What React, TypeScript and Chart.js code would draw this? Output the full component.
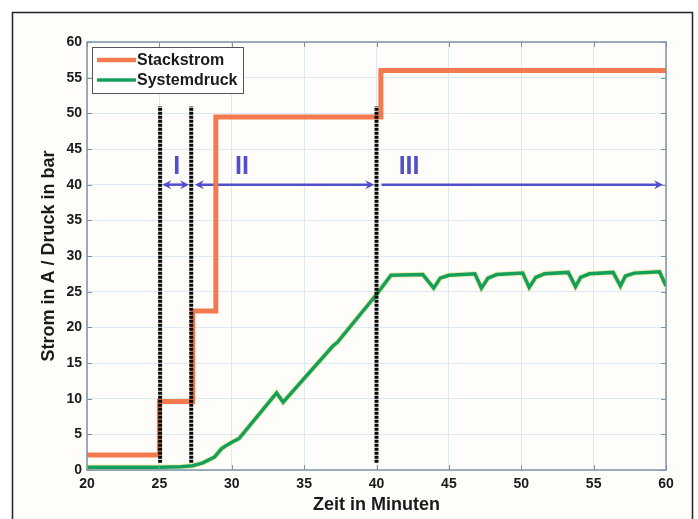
import React, { useEffect, useRef } from "react";
import { Chart, registerables } from "chart.js";

Chart.register(...registerables);

// ---- data ----
const STEP_TIMES = [20, 25, 27.3, 28.9, 40.3, 60];
const STACKSTROM = [2.1, 9.6, 22.3, 49.5, 56, 56];

const PRESSURE_TIMES = [
  20, 25, 26.5, 27.3, 28, 28.8, 29.3, 29.6, 30.1, 30.5, 33.1, 33.55, 37.0, 37.3, 40.0, 41.0,
  43.2, 43.95, 44.4, 45.0, 46.8, 47.25, 47.7, 48.3, 50.1, 50.55, 51.0, 51.6, 53.25, 53.75,
  54.1, 54.7, 56.35, 56.85, 57.2, 57.8, 59.55, 60,
];
const SYSTEMDRUCK = [
  0.4, 0.4, 0.45, 0.6, 1.0, 1.8, 3.0, 3.4, 4.0, 4.4, 10.8, 9.5, 17.4, 17.9, 24.6, 27.3,
  27.4, 25.5, 26.9, 27.3, 27.5, 25.5, 26.9, 27.4, 27.6, 25.6, 27.0, 27.5, 27.7, 25.7,
  27.0, 27.5, 27.7, 25.8, 27.2, 27.6, 27.8, 25.8,
];

const MARKER_TIMES = [25.05, 27.2, 40.0];
const MARKER_BOTTOM = 1;
const MARKER_TOP = 51;

const PHASE_LABELS = ["I", "II", "III"];
const PHASE_FROM = [25.2, 27.45, 40.35];
const PHASE_TO = [27.05, 39.85, 59.8];
const PHASE_START_HEAD = [true, true, false];
const PHASE_LABEL_X = [26.2, 30.7, 42.25];
const PHASE_ARROW_Y = 40;
const PHASE_LABEL_Y = 42.6;

const SERIES_NAMES = ["Stackstrom", "Systemdruck"];
const X_TITLE = "Zeit in Minuten";
const Y_TITLE = "Strom in A / Druck in bar";

const ORANGE = "#f27a4e";
const GREEN = "#14a05c";
const ARROW = "#5050cc";
const FONT = "'Liberation Sans', Arial, sans-serif";

export default function App() {
  const ref = useRef<HTMLCanvasElement | null>(null);

  useEffect(() => {
    const canvas = ref.current;
    if (!canvas) return;

    const decor = {
      id: "decor",
      beforeDraw(chart: any) {
        const ctx = chart.ctx;
        ctx.save();
        ctx.fillStyle = "#ffffff";
        ctx.fillRect(0, 0, chart.width, chart.height);
        ctx.fillStyle = "#fffdfa";
        ctx.fillRect(12, 12, 681, 520);
        ctx.strokeStyle = "#222";
        ctx.lineWidth = 1.5;
        ctx.strokeRect(12.5, 12.5, 680, 520);
        ctx.restore();
      },
      beforeDatasetsDraw(chart: any) {
        const ctx = chart.ctx;
        const xs = chart.scales.x;
        const ys = chart.scales.y;
        ctx.save();
        ctx.strokeStyle = ARROW;
        ctx.fillStyle = ARROW;
        ctx.lineWidth = 2.5;
        const y = ys.getPixelForValue(PHASE_ARROW_Y);
        const head = (xTip: number, dir: number) => {
          ctx.beginPath();
          ctx.moveTo(xTip, y);
          ctx.lineTo(xTip - dir * 9, y - 4.5);
          ctx.lineTo(xTip - dir * 6, y);
          ctx.lineTo(xTip - dir * 9, y + 4.5);
          ctx.closePath();
          ctx.fill();
        };
        for (let i = 0; i < PHASE_FROM.length; i++) {
          const x1 = xs.getPixelForValue(PHASE_FROM[i]);
          const x2 = xs.getPixelForValue(PHASE_TO[i]);
          ctx.beginPath();
          ctx.moveTo(x1 + (PHASE_START_HEAD[i] ? 4 : 0), y);
          ctx.lineTo(x2 - 4, y);
          ctx.stroke();
          head(x2, 1);
          if (PHASE_START_HEAD[i]) head(x1, -1);
        }
        ctx.font = `bold 25px ${FONT}`;
        ctx.textAlign = "center";
        ctx.textBaseline = "middle";
        for (let i = 0; i < PHASE_LABELS.length; i++) {
          ctx.fillText(
            PHASE_LABELS[i],
            xs.getPixelForValue(PHASE_LABEL_X[i]),
            ys.getPixelForValue(PHASE_LABEL_Y) + 1
          );
        }
        ctx.restore();
      },
      afterDraw(chart: any) {
        const ctx = chart.ctx;
        const a = chart.chartArea;
        const xs = chart.scales.x;
        const ys = chart.scales.y;
        ctx.save();
        // plot box
        ctx.strokeStyle = "#7d93a8";
        ctx.lineWidth = 1.5;
        ctx.strokeRect(a.left, a.top, a.right - a.left, a.bottom - a.top);
        // inward ticks
        ctx.lineWidth = 1;
        ys.ticks.forEach((t: any) => {
          const py = Math.round(ys.getPixelForValue(t.value)) + 0.5;
          ctx.beginPath();
          ctx.moveTo(a.left, py);
          ctx.lineTo(a.left + 5, py);
          ctx.moveTo(a.right, py);
          ctx.lineTo(a.right - 5, py);
          ctx.stroke();
        });
        xs.ticks.forEach((t: any) => {
          const px = Math.round(xs.getPixelForValue(t.value)) + 0.5;
          ctx.beginPath();
          ctx.moveTo(px, a.bottom);
          ctx.lineTo(px, a.bottom - 5);
          ctx.moveTo(px, a.top);
          ctx.lineTo(px, a.top + 5);
          ctx.stroke();
        });
        // axis titles
        ctx.fillStyle = "#1a1a1a";
        ctx.font = `bold 18px ${FONT}`;
        ctx.textAlign = "center";
        ctx.textBaseline = "middle";
        ctx.fillText(X_TITLE, (a.left + a.right) / 2, 505);
        ctx.save();
        ctx.translate(49, (a.top + a.bottom) / 2);
        ctx.rotate(-Math.PI / 2);
        ctx.fillText(Y_TITLE, 0, 0);
        ctx.restore();
        // legend
        const lx = a.left + 5;
        const ly = a.top + 5;
        ctx.fillStyle = "#ffffff";
        ctx.fillRect(lx, ly, 151, 46);
        ctx.strokeStyle = "#555";
        ctx.lineWidth = 1;
        ctx.strokeRect(lx + 0.5, ly + 0.5, 151, 46);
        const colors = [ORANGE, GREEN];
        ctx.font = `bold 16px ${FONT}`;
        ctx.textAlign = "left";
        for (let i = 0; i < SERIES_NAMES.length; i++) {
          const yy = ly + 13 + i * 20;
          ctx.strokeStyle = colors[i];
          ctx.lineWidth = i === 0 ? 4.5 : 3.5;
          ctx.beginPath();
          ctx.moveTo(lx + 5, yy);
          ctx.lineTo(lx + 44, yy);
          ctx.stroke();
          ctx.fillStyle = "#1a1a1a";
          ctx.fillText(SERIES_NAMES[i], lx + 45, yy + 1);
        }
        ctx.restore();
      },
    };

    const markerSets = MARKER_TIMES.map((t) => ({
      label: "marker",
      data: [
        { x: t, y: MARKER_BOTTOM },
        { x: t, y: MARKER_TOP },
      ],
      borderColor: "#0a0a0a",
      borderWidth: 4,
      borderDash: [3, 1],
      pointRadius: 0,
      fill: false,
    }));

    const chart = new Chart(canvas, {
      type: "line",
      data: {
        datasets: [
          ...markerSets,
          {
            label: SERIES_NAMES[1],
            data: PRESSURE_TIMES.map((t, i) => ({ x: t, y: SYSTEMDRUCK[i] })),
            borderColor: GREEN,
            borderWidth: 3.5,
            pointRadius: 0,
            fill: false,
            tension: 0,
          },
          {
            label: SERIES_NAMES[1] + " halo",
            data: PRESSURE_TIMES.map((t, i) => ({ x: t, y: SYSTEMDRUCK[i] })),
            borderColor: "rgba(225,220,110,0.55)",
            borderWidth: 5.5,
            pointRadius: 0,
            fill: false,
            tension: 0,
          },
          {
            label: SERIES_NAMES[0],
            data: STEP_TIMES.map((t, i) => ({ x: t, y: STACKSTROM[i] })),
            borderColor: ORANGE,
            borderWidth: 5,
            stepped: "before",
            pointRadius: 0,
            fill: false,
          },
        ],
      },
      options: {
        animation: false,
        responsive: false,
        maintainAspectRatio: false,
        layout: { padding: { top: 42, right: 32, left: 0, bottom: 0 } },
        plugins: { legend: { display: false }, tooltip: { enabled: false } },
        scales: {
          x: {
            type: "linear",
            min: 20,
            max: 60,
            ticks: {
              stepSize: 5,
              color: "#1a1a1a",
              font: { family: FONT, size: 14, weight: "bold" },
              padding: 6,
              maxRotation: 0,
            },
            grid: { color: "#dde9f2", drawTicks: false },
            border: { display: false },
            afterFit: (s: any) => {
              s.height = 49;
            },
          },
          y: {
            min: 0,
            max: 60,
            ticks: {
              stepSize: 5,
              color: "#1a1a1a",
              font: { family: FONT, size: 14, weight: "bold" },
              padding: 5,
            },
            grid: { color: "#dde9f2", drawTicks: false },
            border: { display: false },
            afterFit: (s: any) => {
              s.width = 87;
            },
          },
        },
      },
      plugins: [decor],
    } as any);

    return () => chart.destroy();
  }, []);

  return (
    <div style={{ position: "fixed", left: 0, top: 0, width: 698, height: 519 }}>
      <canvas ref={ref} width={698} height={519} style={{ display: "block" }} />
    </div>
  );
}
